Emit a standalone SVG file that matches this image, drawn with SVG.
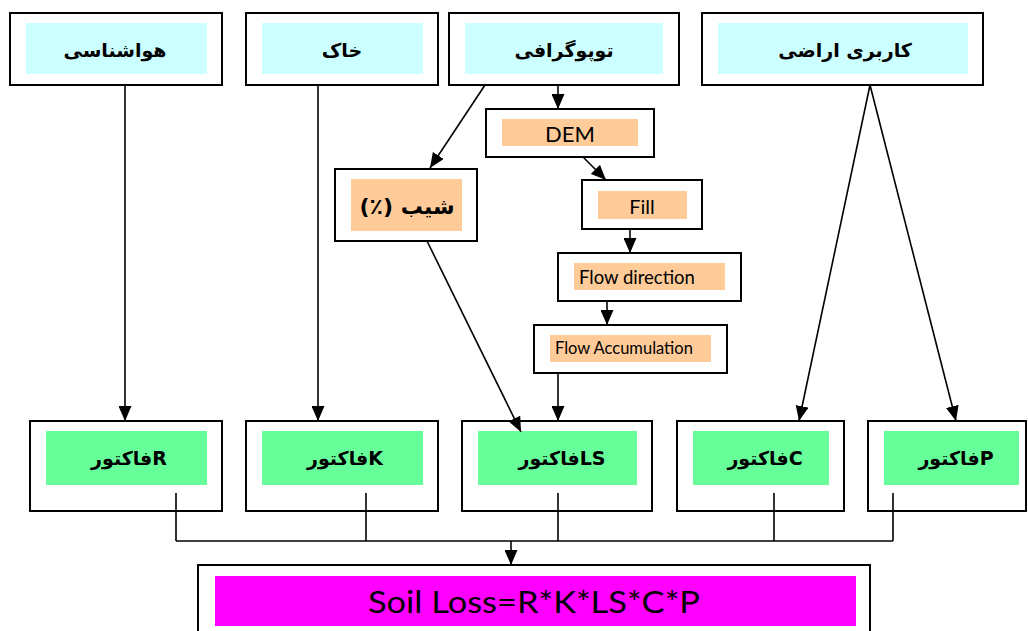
<svg xmlns="http://www.w3.org/2000/svg" width="1028" height="631" viewBox="0 0 1028 631">
<style>
.box{fill:#fff;stroke:#000;stroke-width:2}
.cy{fill:#CCFFFF}
.or{fill:#FFCC99}
.gr{fill:#66FF99}
.mg{fill:#FF00FF}
.fa{font-family:"DejaVu Sans",sans-serif;font-weight:bold;font-size:19px;fill:#000;text-anchor:middle}
.en{font-family:Lato,"Liberation Sans",sans-serif;fill:#000}
.ln{fill:none;stroke:#000;stroke-width:1.6}
</style>
<defs>
<marker id="ah" markerUnits="userSpaceOnUse" markerWidth="15" markerHeight="13" refX="15" refY="6.5" orient="auto">
<path d="M0,0 L15,6.5 L0,13 z" fill="#000"/>
</marker>
</defs>
<g id="n-hava"><rect class="box" x="10" y="13" width="212" height="72"/><rect class="cy" x="26" y="23" width="181" height="51"/><text class="fa" x="115" y="57">هواشناسی</text></g>
<g id="n-khak"><rect class="box" x="246" y="13" width="192" height="72"/><rect class="cy" x="262" y="23" width="161" height="51"/><text class="fa" x="342" y="57">خاک</text></g>
<g id="n-topo"><rect class="box" x="449" y="13" width="230" height="72"/><rect class="cy" x="465" y="23" width="198" height="51"/><text class="fa" x="564" y="57">توپوگرافی</text></g>
<g id="n-karbari"><rect class="box" x="702" y="13" width="281" height="72"/><rect class="cy" x="718" y="23" width="250" height="51"/><text class="fa" x="845" y="57">کاربری اراضی</text></g>
<g id="n-shib"><rect class="box" x="335" y="169" width="142" height="72"/><rect class="or" x="351" y="179" width="111" height="52"/><text class="fa" x="407" y="214" style="font-size:22px" direction="rtl">شیب (٪)</text></g>
<g id="n-dem"><rect class="box" x="486" y="109" width="168" height="48"/><rect class="or" x="502" y="119" width="136" height="27"/><text class="en" x="570" y="142" font-size="22" text-anchor="middle">DEM</text></g>
<g id="n-fill"><rect class="box" x="582" y="180" width="120" height="49"/><rect class="or" x="598" y="191" width="89" height="28"/><text class="en" x="642" y="214" font-size="20" text-anchor="middle">Fill</text></g>
<g id="n-flowdir"><rect class="box" x="558" y="253" width="183" height="48"/><rect class="or" x="574" y="263" width="151" height="27"/><text class="en" x="579" y="284" font-size="18.5">Flow direction</text></g>
<g id="n-flowacc"><rect class="box" x="534" y="325" width="193" height="48"/><rect class="or" x="550" y="335" width="161" height="27"/><text class="en" x="555" y="354" font-size="16.5">Flow Accumulation</text></g>
<g id="n-r"><rect class="box" x="30" y="421" width="192" height="90"/><rect class="gr" x="46" y="431" width="161" height="54"/><text class="fa" x="129" y="465">فاکتورR</text></g>
<g id="n-k"><rect class="box" x="246" y="421" width="192" height="90"/><rect class="gr" x="262" y="431" width="161" height="54"/><text class="fa" x="345" y="465">فاکتورK</text></g>
<g id="n-ls"><rect class="box" x="462" y="421" width="190" height="90"/><rect class="gr" x="478" y="431" width="159" height="54"/><text class="fa" x="562" y="465">فاکتورLS</text></g>
<g id="n-c"><rect class="box" x="677" y="421" width="167" height="90"/><rect class="gr" x="693" y="431" width="136" height="54"/><text class="fa" x="765" y="465">فاکتورC</text></g>
<g id="n-p"><rect class="box" x="868" y="421" width="158" height="90"/><rect class="gr" x="884" y="431" width="135" height="54"/><text class="fa" x="956" y="465">فاکتورP</text></g>
<g id="n-soil"><rect class="box" x="198" y="565" width="672" height="80"/><rect class="mg" x="215" y="576" width="641" height="50"/><text class="en" x="534" y="613" font-size="31" text-anchor="middle" textLength="332" lengthAdjust="spacingAndGlyphs">Soil Loss=R*K*LS*C*P</text></g>
<g id="connectors">
<path class="ln" d="M125,85 V421" marker-end="url(#ah)"/>
<path class="ln" d="M318,85 V421" marker-end="url(#ah)"/>
<path class="ln" d="M485,85 L430,168" marker-end="url(#ah)"/>
<path class="ln" d="M558,85 V109" marker-end="url(#ah)"/>
<path class="ln" d="M583,157 L606,180" marker-end="url(#ah)"/>
<path class="ln" d="M630,229 V253" marker-end="url(#ah)"/>
<path class="ln" d="M607,301 V325" marker-end="url(#ah)"/>
<path class="ln" d="M558,373 V421" marker-end="url(#ah)"/>
<path class="ln" d="M427,241 L521,432" marker-end="url(#ah)"/>
<path class="ln" d="M870,85 L799,421" marker-end="url(#ah)"/>
<path class="ln" d="M870,85 L956,421" marker-end="url(#ah)"/>
<path class="ln" d="M176,493 V541 M366,493 V541 M558,493 V541 M774,493 V541 M893,493 V541 M176,541 H893"/>
<path class="ln" d="M511,541 V565" marker-end="url(#ah)"/>
</g>
</svg>
